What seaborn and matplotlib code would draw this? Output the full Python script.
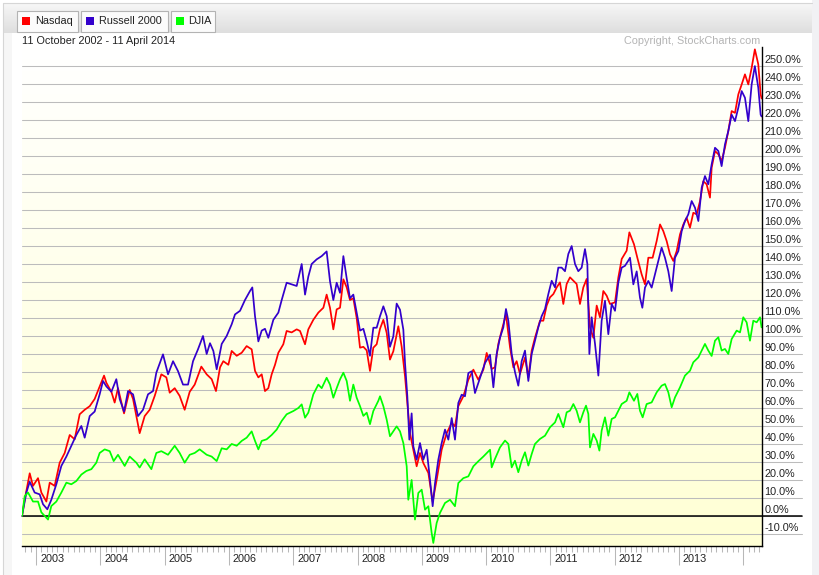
import numpy as np
import pandas as pd
import matplotlib
matplotlib.use("Agg")
import matplotlib.pyplot as plt
import matplotlib.patches as mpatches
import matplotlib.transforms as mtransforms
from matplotlib.colors import LinearSegmentedColormap
import seaborn as sns

# ---------------- data (fractional year, % change since 11 Oct 2002) ----------------
nasdaq = [
    (2002.782, 0), (2002.824, 9), (2002.902, 23.7), (2002.953, 16.7), (2003.031, 21), (2003.083, 13),
    (2003.161, 8), (2003.213, 18.5), (2003.290, 16.7), (2003.368, 29.6), (2003.446, 35), (2003.524, 45),
    (2003.601, 42.6), (2003.679, 56.5), (2003.757, 59), (2003.835, 61), (2003.912, 65), (2003.990, 72),
    (2004.058, 78), (2004.094, 74), (2004.172, 69), (2004.223, 63), (2004.275, 71), (2004.369, 57),
    (2004.457, 70), (2004.509, 65), (2004.612, 46), (2004.690, 55.5), (2004.768, 59), (2004.846, 66.7),
    (2004.949, 78.7), (2005.027, 77), (2005.079, 68.5), (2005.157, 71), (2005.234, 66.7), (2005.312, 59),
    (2005.390, 69), (2005.468, 73), (2005.571, 83), (2005.654, 78.7), (2005.732, 76), (2005.799, 69.4),
    (2005.862, 82.6), (2005.913, 86), (2005.991, 84), (2006.043, 91.7), (2006.121, 89), (2006.199, 90.7),
    (2006.276, 94.4), (2006.354, 92.6), (2006.406, 80.6), (2006.458, 77), (2006.510, 78.7), (2006.561, 69.4),
    (2006.613, 71), (2006.665, 78.7), (2006.717, 84), (2006.769, 90.7), (2006.846, 95.4), (2006.898, 102.8),
    (2006.976, 102), (2007.054, 103.7), (2007.106, 102.8), (2007.184, 95.4), (2007.235, 103.7), (2007.313, 109),
    (2007.391, 113), (2007.469, 115.7), (2007.520, 123), (2007.572, 115.7), (2007.624, 103.7), (2007.676, 114.8),
    (2007.728, 115.7), (2007.780, 131.5), (2007.832, 127), (2007.883, 120), (2007.935, 121), (2007.987, 110),
    (2008.039, 93.5), (2008.091, 94), (2008.143, 92), (2008.194, 80.6), (2008.246, 93.5), (2008.298, 95.4),
    (2008.350, 104), (2008.402, 109), (2008.454, 101.7), (2008.505, 86.9), (2008.557, 91.5), (2008.635, 105.4),
    (2008.687, 94), (2008.739, 77.6), (2008.775, 62.8), (2008.816, 46), (2008.868, 36.8), (2008.920, 27.6),
    (2008.972, 35), (2009.024, 29.4), (2009.102, 23.9), (2009.169, 8), (2009.231, 20), (2009.309, 36.8),
    (2009.387, 46), (2009.465, 51.7), (2009.516, 49.8), (2009.568, 61), (2009.646, 66.5), (2009.724, 75.7),
    (2009.802, 81.3), (2009.879, 75.7), (2009.957, 81.3), (2010.009, 90.6), (2010.087, 81.7), (2010.138, 82.6),
    (2010.190, 95.6), (2010.242, 103), (2010.309, 112), (2010.372, 93.7), (2010.424, 82.6), (2010.475, 86),
    (2010.527, 78.9), (2010.605, 88), (2010.657, 77), (2010.709, 91.9), (2010.760, 99), (2010.838, 108.5),
    (2010.890, 108.5), (2010.942, 116.9), (2010.994, 121.5), (2011.046, 123.3), (2011.098, 127), (2011.149, 129.8),
    (2011.201, 117.8), (2011.253, 128.9), (2011.305, 132.6), (2011.357, 130.7), (2011.408, 128.9), (2011.460, 117.8),
    (2011.512, 127), (2011.564, 131.7), (2011.616, 104.8), (2011.668, 99), (2011.720, 116.9), (2011.771, 110.4),
    (2011.823, 125), (2011.875, 122.4), (2011.927, 117.8), (2012.005, 118.7), (2012.057, 132.6), (2012.109, 142.8),
    (2012.186, 147.4), (2012.228, 157.6), (2012.300, 151), (2012.352, 143.5), (2012.419, 134.3), (2012.471, 128.7),
    (2012.523, 143.5), (2012.590, 143.5), (2012.653, 152.8), (2012.705, 162), (2012.756, 158.3), (2012.808, 152.8),
    (2012.860, 145.4), (2012.912, 141.7), (2012.964, 147.2), (2013.016, 156.5), (2013.068, 162), (2013.119, 165.7),
    (2013.171, 160.2), (2013.223, 168.5), (2013.275, 167.6), (2013.327, 175), (2013.378, 186), (2013.430, 184.3),
    (2013.482, 176.9), (2013.508, 193.5), (2013.560, 202.8), (2013.612, 201), (2013.663, 197.2), (2013.715, 204.6),
    (2013.767, 213.9), (2013.819, 225), (2013.871, 224), (2013.923, 234.3), (2013.975, 239.8), (2014.026, 245.4),
    (2014.078, 239.8), (2014.130, 249), (2014.180, 259.3), (2014.233, 251), (2014.270, 234.3), (2014.284, 232),
]

russell = [
    (2002.782, 0), (2002.850, 13), (2002.902, 19), (2002.979, 13), (2003.057, 12), (2003.109, 6.5),
    (2003.176, 3.7), (2003.238, 9), (2003.316, 17.6), (2003.394, 27.8), (2003.472, 33), (2003.549, 39),
    (2003.627, 45), (2003.705, 50), (2003.757, 43.5), (2003.835, 55.5), (2003.912, 58), (2003.990, 67.6),
    (2004.042, 75), (2004.094, 72), (2004.172, 69), (2004.249, 76), (2004.301, 65), (2004.369, 58),
    (2004.431, 69.4), (2004.509, 67.6), (2004.586, 55.5), (2004.664, 59), (2004.742, 67.6), (2004.820, 69.4),
    (2004.871, 79.6), (2004.975, 89.8), (2005.053, 78.7), (2005.131, 86), (2005.208, 80.5), (2005.286, 73),
    (2005.364, 73), (2005.442, 86), (2005.519, 92.6), (2005.597, 100), (2005.654, 90), (2005.706, 96),
    (2005.758, 91.7), (2005.810, 81.5), (2005.888, 95.6), (2005.965, 100), (2006.043, 106.5), (2006.095, 112),
    (2006.173, 114), (2006.250, 120), (2006.328, 125), (2006.364, 127), (2006.406, 111), (2006.458, 97),
    (2006.510, 103), (2006.561, 104), (2006.613, 99), (2006.691, 109), (2006.769, 113), (2006.821, 120),
    (2006.898, 129.6), (2006.976, 128.7), (2007.054, 127.8), (2007.132, 140), (2007.184, 123), (2007.235, 133),
    (2007.287, 140), (2007.365, 142.6), (2007.443, 144.4), (2007.520, 147), (2007.572, 130.5), (2007.624, 120),
    (2007.676, 129.6), (2007.728, 124), (2007.780, 144.4), (2007.832, 132), (2007.883, 121), (2007.935, 123),
    (2007.987, 113), (2008.039, 103), (2008.091, 104), (2008.143, 97), (2008.194, 89), (2008.246, 104.6),
    (2008.298, 104.6), (2008.350, 111), (2008.402, 116.5), (2008.454, 111), (2008.505, 94), (2008.557, 99.8),
    (2008.609, 118), (2008.661, 114.6), (2008.713, 103.5), (2008.739, 85), (2008.775, 66.5), (2008.806, 42.4),
    (2008.842, 57), (2008.868, 38.7), (2008.920, 31.3), (2008.972, 40.5), (2009.024, 31.3), (2009.076, 36.8),
    (2009.128, 20), (2009.169, 5.4), (2009.205, 18), (2009.257, 31.3), (2009.309, 40.5), (2009.361, 48),
    (2009.413, 42.4), (2009.465, 54.4), (2009.516, 42.4), (2009.568, 62.8), (2009.620, 67.4), (2009.672, 66.5),
    (2009.724, 79.4), (2009.776, 80.4), (2009.827, 68.3), (2009.879, 73.9), (2009.931, 79.4), (2009.983, 85),
    (2010.061, 89.6), (2010.113, 71.5), (2010.164, 90), (2010.216, 99), (2010.268, 104.8), (2010.309, 115),
    (2010.346, 108.5), (2010.398, 90), (2010.449, 80), (2010.501, 72.4), (2010.553, 86), (2010.605, 91.9),
    (2010.657, 75), (2010.709, 90), (2010.760, 97.4), (2010.812, 104.8), (2010.864, 111), (2010.916, 115),
    (2010.968, 123.3), (2011.020, 130.7), (2011.072, 127), (2011.123, 138), (2011.175, 138), (2011.227, 136),
    (2011.279, 145.6), (2011.331, 150), (2011.383, 140), (2011.434, 136), (2011.486, 138), (2011.538, 148.3),
    (2011.575, 140), (2011.606, 90), (2011.642, 110.4), (2011.694, 95.6), (2011.746, 78), (2011.797, 108.5),
    (2011.849, 119.6), (2011.901, 101), (2011.953, 117.8), (2012.005, 114), (2012.057, 129.8), (2012.109, 138),
    (2012.160, 139), (2012.212, 141.9), (2012.238, 143.5), (2012.290, 128.7), (2012.342, 135.9), (2012.393, 121.3),
    (2012.430, 115.7), (2012.471, 126.9), (2012.523, 130.6), (2012.575, 126.9), (2012.627, 134.3), (2012.679, 141.7),
    (2012.730, 149.1), (2012.782, 143.5), (2012.834, 136), (2012.886, 125), (2012.938, 143.5), (2012.990, 147.2),
    (2013.042, 158.3), (2013.093, 163.9), (2013.145, 167.6), (2013.197, 175), (2013.249, 171.3), (2013.301, 163.9),
    (2013.353, 182.4), (2013.404, 188.9), (2013.456, 184.3), (2013.508, 195.4), (2013.560, 204.6), (2013.612, 202.8),
    (2013.663, 194.4), (2013.715, 206.5), (2013.767, 213.9), (2013.819, 223), (2013.871, 219.4), (2013.923, 226.9),
    (2013.975, 236.1), (2014.026, 232.4), (2014.078, 219.4), (2014.130, 239.8), (2014.180, 250), (2014.233, 238),
    (2014.270, 223), (2014.284, 222),
]

djia = [
    (2002.782, 0), (2002.824, 11), (2002.876, 13), (2002.953, 8), (2003.031, 8), (2003.083, 2),
    (2003.187, -2), (2003.238, 5.5), (2003.316, 8), (2003.394, 13), (2003.472, 18.5), (2003.549, 17.6),
    (2003.627, 19.4), (2003.705, 23), (2003.783, 25), (2003.861, 26), (2003.938, 29.6), (2003.990, 35),
    (2004.068, 37), (2004.146, 36), (2004.208, 30.5), (2004.275, 34), (2004.379, 27.8), (2004.457, 33),
    (2004.560, 29.6), (2004.612, 26.9), (2004.690, 31.5), (2004.794, 26), (2004.871, 35), (2004.949, 36),
    (2005.053, 34), (2005.157, 39), (2005.234, 35), (2005.312, 29.6), (2005.390, 34), (2005.468, 35),
    (2005.545, 37), (2005.654, 34), (2005.732, 33), (2005.810, 30.5), (2005.888, 37.6), (2005.965, 37),
    (2006.043, 40), (2006.121, 39), (2006.199, 41.7), (2006.276, 43.5), (2006.354, 47), (2006.406, 41.7),
    (2006.458, 37), (2006.510, 41.7), (2006.587, 42.6), (2006.665, 45), (2006.743, 48), (2006.821, 52.8),
    (2006.898, 56.5), (2007.002, 58.3), (2007.080, 60), (2007.132, 62), (2007.184, 54.6), (2007.235, 57.4),
    (2007.313, 67.6), (2007.391, 73), (2007.443, 71), (2007.520, 76.8), (2007.572, 73), (2007.624, 65.7),
    (2007.676, 71), (2007.728, 75.9), (2007.780, 79.6), (2007.832, 75), (2007.883, 64), (2007.935, 73),
    (2007.987, 65.7), (2008.039, 61), (2008.091, 55.6), (2008.143, 57.4), (2008.194, 51), (2008.246, 58.3),
    (2008.324, 64), (2008.350, 66.5), (2008.402, 61), (2008.454, 53.5), (2008.505, 44.3), (2008.557, 47),
    (2008.609, 49.8), (2008.661, 47), (2008.713, 40.5), (2008.765, 27.6), (2008.790, 9), (2008.842, 20),
    (2008.894, -2), (2008.946, 12.8), (2008.998, 14.6), (2009.050, 3.5), (2009.102, 5.4), (2009.153, -9.4),
    (2009.179, -15), (2009.231, -3.9), (2009.283, 1.7), (2009.361, 7.2), (2009.439, 9), (2009.516, 5.4),
    (2009.568, 18.3), (2009.646, 21), (2009.724, 22), (2009.802, 27.6), (2009.879, 30.4), (2009.957, 33),
    (2010.061, 36.8), (2010.087, 27), (2010.138, 31.7), (2010.216, 38.1), (2010.294, 41.9), (2010.346, 40),
    (2010.398, 27), (2010.449, 30.7), (2010.501, 24.3), (2010.553, 30.7), (2010.605, 35.4), (2010.657, 28),
    (2010.709, 34.4), (2010.760, 40), (2010.838, 42.8), (2010.916, 44.6), (2010.994, 49.3), (2011.072, 52),
    (2011.123, 56.7), (2011.201, 49.3), (2011.253, 57.6), (2011.305, 58.5), (2011.357, 62.2), (2011.408, 58.5),
    (2011.460, 52), (2011.512, 57.6), (2011.554, 61.3), (2011.590, 56.7), (2011.616, 38.1), (2011.668, 45.6),
    (2011.720, 41.9), (2011.762, 36.3), (2011.797, 47.4), (2011.849, 54.8), (2011.901, 44.6), (2011.953, 53.9),
    (2012.005, 54.8), (2012.057, 58.5), (2012.109, 62.2), (2012.186, 64), (2012.228, 68.7), (2012.300, 64),
    (2012.352, 67.8), (2012.393, 58.5), (2012.435, 54.8), (2012.497, 62.2), (2012.575, 63.1), (2012.653, 68.7),
    (2012.730, 72.4), (2012.782, 73.3), (2012.834, 68.7), (2012.886, 60.4), (2012.938, 65.9), (2013.016, 71.5),
    (2013.093, 78), (2013.171, 80.7), (2013.223, 85.4), (2013.301, 88.1), (2013.353, 91.9), (2013.404, 95.6),
    (2013.456, 91.9), (2013.508, 88.9), (2013.560, 97.4), (2013.612, 99.3), (2013.663, 91.9), (2013.715, 92.8),
    (2013.767, 90), (2013.819, 98.3), (2013.897, 103), (2013.949, 102), (2014.000, 110.4), (2014.052, 107.6),
    (2014.104, 97.4), (2014.156, 108.5), (2014.208, 107.6), (2014.260, 110.4), (2014.284, 104.8),
]

series_names = ["Nasdaq", "Russell 2000", "DJIA"]
series_colors = ["#FF0000", "#3300CC", "#00FF00"]
y_ticks = list(range(-10, 251, 10))
year_ticks = list(range(2003, 2015))
year_labels = [str(y) for y in range(2003, 2014)]
date_range_text = "11 October 2002 - 11 April 2014"
copyright_text = "Copyright, StockCharts.com"

# ---------------- styling ----------------
sns.set_theme(style="white")
plt.rcParams["font.family"] = ["Liberation Sans", "DejaVu Sans"]
FS = 7.8

W, H = 820, 575
fig = plt.figure(figsize=(W / 100, H / 100), dpi=100)
fig.patch.set_facecolor("white")

# background / chrome in pixel coordinates
bg = fig.add_axes([0, 0, 1, 1], zorder=0)
bg.axis("off")
hdr_cmap = LinearSegmentedColormap.from_list("hdr", ["#f7f7f7", "#dedede"])
bg.imshow(np.linspace(0, 1, 64)[:, None], extent=[3, 812, 33, 3], cmap=hdr_cmap,
          aspect="auto", origin="upper", zorder=0)
bg.add_patch(mpatches.Rectangle((812, 0), 8, H, facecolor="#f1f1f4", edgecolor="none", zorder=1))
bg.add_patch(mpatches.Rectangle((3, 33), 9, H - 33, facecolor="#f6f6f6", edgecolor="none", zorder=1))
bg.plot([3, 3, 812], [H, 3, 3], color="#d6d6d6", lw=0.8, zorder=2)
bg.set_xlim(0, W)
bg.set_ylim(H, 0)

buttons = [(17, 78, 22, 35), (81, 168, 86, 99), (171, 215, 175.7, 188)]
for (x0, x1, sqx, tx), name, col in zip(buttons, series_names, series_colors):
    bg.add_patch(mpatches.Rectangle((x0, 11), x1 - x0, 21, facecolor="#fbfbfb",
                                    edgecolor="#b3b3b3", lw=0.8, zorder=3))
    bg.add_patch(mpatches.Rectangle((sqx, 17), 8, 8, facecolor=col, edgecolor="none", zorder=4))
    bg.text(tx, 21.5, name, fontsize=FS, va="center", ha="left", color="#222222", zorder=5)

bg.text(22, 41.5, date_range_text, fontsize=FS, va="center", ha="left", color="#222222")
bg.text(760, 41, copyright_text, fontsize=FS, va="center", ha="right", color="#b4b4b4")

# main plot axes
x0p, x1p, y0p, y1p = 22, 762, 47, 546
ax = fig.add_axes([x0p / W, 1 - y1p / H, (x1p - x0p) / W, (y1p - y0p) / H], zorder=1)
XMIN, XMAX = 2002.782, 2014.291
YMIN, YMAX = -16.7, 260.6

bg_cmap = LinearSegmentedColormap.from_list("plotbg", ["#ffffff", "#ffffd4"])
ax.imshow(np.linspace(0, 1, 256)[:, None], extent=[XMIN, XMAX, YMIN, YMAX], cmap=bg_cmap,
          aspect="auto", origin="upper", zorder=0)

ext = (801.7 - x0p) / (x1p - x0p)
for v in y_ticks:
    ax.plot([0, ext], [v, v], transform=ax.get_yaxis_transform(), color="#bcbcbc",
            lw=0.75, clip_on=False, zorder=1)
ax.plot([0, ext], [0, 0], transform=ax.get_yaxis_transform(), color="black",
        lw=1.1, clip_on=False, zorder=1.5)

frames = []
for name, data in zip(series_names, [nasdaq, russell, djia]):
    d = pd.DataFrame(data, columns=["t", "v"])
    d["series"] = name
    frames.append(d)
df = pd.concat(frames, ignore_index=True)

sns.lineplot(data=df, x="t", y="v", hue="series", hue_order=series_names,
             palette=dict(zip(series_names, series_colors)), estimator=None, sort=False,
             legend=False, lw=1.25, ax=ax, zorder=2)

ax.set_xlim(XMIN, XMAX)
ax.set_ylim(YMIN, YMAX)
ax.set_xlabel("")
ax.set_ylabel("")
ax.set_facecolor("none")
for s in ["top", "left"]:
    ax.spines[s].set_visible(False)
for s in ["right", "bottom"]:
    ax.spines[s].set_color("black")
    ax.spines[s].set_linewidth(1.0)
    ax.spines[s].set_zorder(3)

minor_ticks = [y + m / 12 for y in range(2002, 2015) for m in range(1, 12)]
minor_ticks = [t for t in minor_ticks if XMIN < t < XMAX]
ax.set_xticks(year_ticks)
ax.set_xticklabels([])
ax.set_xticks(minor_ticks, minor=True)
ax.tick_params(axis="x", which="major", bottom=True, length=13.5, width=0.75,
               color="#b8b8b8", direction="out")
ax.tick_params(axis="x", which="minor", bottom=True, length=4.3, width=0.75,
               color="#b8b8b8", direction="out")
ax.set_yticks([])

ytr = mtransforms.offset_copy(ax.get_yaxis_transform(), fig=fig, x=0, y=3.4, units="dots")
xlab = (764.5 - x0p) / (x1p - x0p)
for v in y_ticks:
    ax.text(xlab, v, f"{v:.1f}%", transform=ytr, va="baseline", ha="left",
            fontsize=FS, color="#222222", clip_on=False)

xtr = mtransforms.offset_copy(ax.get_xaxis_transform(), fig=fig, x=4, y=0, units="dots")
ylab = (y1p - 561.7) / (y1p - y0p)
for yr, lab in zip(year_ticks, year_labels):
    ax.text(yr, ylab, lab, transform=xtr, va="baseline", ha="left",
            fontsize=FS, color="#222222", clip_on=False)

fig.savefig("out.png", dpi=100)
